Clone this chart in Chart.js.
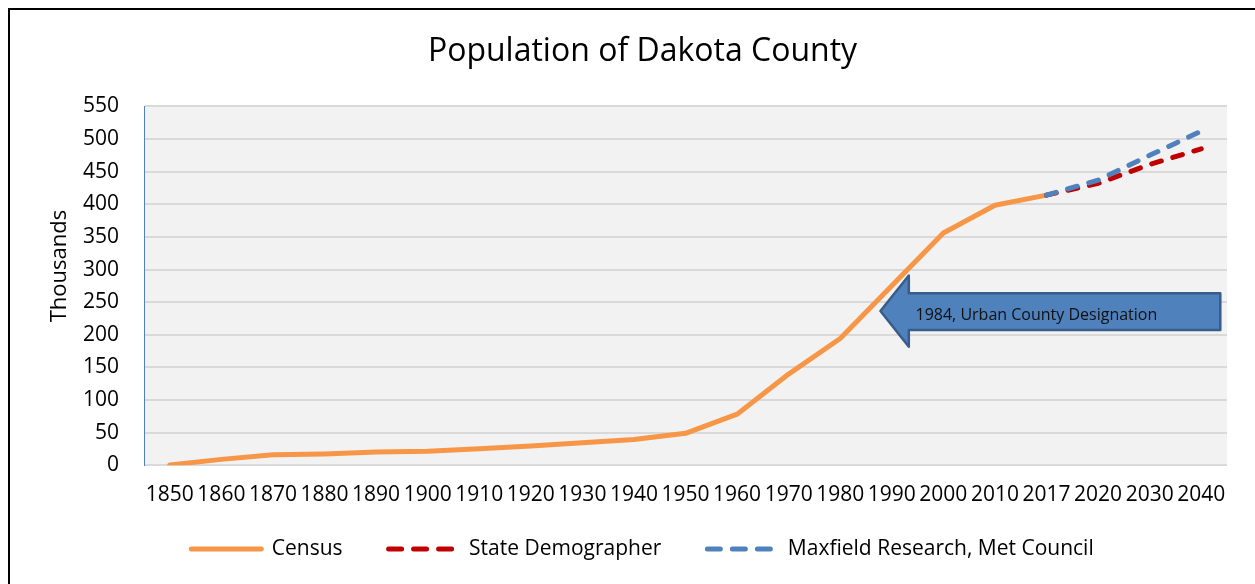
<!DOCTYPE html>
<html>
<head>
<meta charset="utf-8">
<title>Population of Dakota County</title>
<script src="https://cdn.jsdelivr.net/npm/chart.js@4.4.1/dist/chart.umd.min.js"></script>
<style>
  body { margin: 0; background: #fff; }
  #wrap { width: 1255px; height: 584px; position: relative; }
</style>
</head>
<body>
<div id="wrap"><canvas id="myChart"></canvas></div>
<script>
// categories (census years + projection years)
var years = ['1850', '1860', '1870', '1880', '1890', '1900', '1910', '1920', '1930', '1940',
             '1950', '1960', '1970', '1980', '1990', '2000', '2010', '2017', '2020', '2030', '2040'];

// population in thousands
var census = [0.6, 9.1, 16.3, 17.4, 20.2, 21.7, 25.2, 29.6, 34.6, 39.7,
              49.0, 78.3, 139.8, 194.3, 275.2, 355.9, 398.6, 414, null, null, null];
var stateDemographer = [null, null, null, null, null, null, null, null, null, null,
                        null, null, null, null, null, null, null, 414, 432, 461, 485];
var maxfieldMetCouncil = [null, null, null, null, null, null, null, null, null, null,
                          null, null, null, null, null, null, null, 414, 437, 475, 512];

var yTicks = [0, 50, 100, 150, 200, 250, 300, 350, 400, 450, 500, 550];

var yTitle = 'Thousands';
var calloutText = '1984, Urban County Designation';

Chart.defaults.font.family = "'Open Sans', sans-serif";
Chart.defaults.color = '#000';

// white page, the frame lines and the grey plot area
var backdrop = {
    id: 'backdrop',
    beforeDraw: function(chart){
        var ctx = chart.ctx, a = chart.chartArea;
        ctx.save();
        ctx.fillStyle = '#fff';
        ctx.fillRect(0, 0, chart.width, chart.height);
        ctx.fillStyle = '#f2f2f2';
        ctx.fillRect(a.left, a.top, a.right - a.left, a.bottom - a.top);
        ctx.strokeStyle = '#000';
        ctx.lineWidth = 2;
        ctx.beginPath();
        ctx.moveTo(9, chart.height);
        ctx.lineTo(9, 9);
        ctx.lineTo(chart.width, 9);
        ctx.stroke();
        // axis title, sits a bit above the middle like the original
        ctx.translate(60, a.top + (a.bottom - a.top) * 0.445);
        ctx.rotate(-Math.PI / 2);
        ctx.fillStyle = '#000';
        ctx.font = "22px 'Open Sans', sans-serif";
        ctx.textAlign = 'center';
        ctx.textBaseline = 'middle';
        ctx.fillText(yTitle, 0, 0);
        ctx.restore();
    }
};

// the blue arrow callout, placed on the scales
var callout = {
    id: 'callout',
    afterDatasetsDraw: function(chart){
        var ctx = chart.ctx;
        var x = chart.scales.x, y = chart.scales.y;
        var tipX = x.getPixelForValue(13.78), headX = x.getPixelForValue(14.33), endX = x.getPixelForValue(20.37);
        var tipY = y.getPixelForValue(236.6);
        var headTop = y.getPixelForValue(290.8), headBot = y.getPixelForValue(181.7);
        var shaftTop = y.getPixelForValue(263.7), shaftBot = y.getPixelForValue(207.4);
        ctx.save();
        ctx.beginPath();
        ctx.moveTo(tipX, tipY);
        ctx.lineTo(headX, headTop);
        ctx.lineTo(headX, shaftTop);
        ctx.lineTo(endX, shaftTop);
        ctx.lineTo(endX, shaftBot);
        ctx.lineTo(headX, shaftBot);
        ctx.lineTo(headX, headBot);
        ctx.closePath();
        ctx.fillStyle = '#4f81bd';
        ctx.fill();
        ctx.lineJoin = 'round';
        ctx.lineWidth = 2.5;
        ctx.strokeStyle = '#385d8a';
        ctx.stroke();
        ctx.fillStyle = '#111';
        ctx.font = "16px 'Open Sans', sans-serif";
        ctx.textBaseline = 'middle';
        ctx.fillText(calloutText, x.getPixelForValue(14.46), y.getPixelForValue(229));
        ctx.restore();
    }
};

// legend samples: point style items lose the dash, so put it back
function legendLabels(chart){
    var items = Chart.defaults.plugins.legend.labels.generateLabels(chart);
    items.forEach(function(it){
        var ds = chart.data.datasets[it.datasetIndex];
        it.lineDash = ds.borderDash ? [13, 12] : [];
        it.lineCap = 'round';
        it.lineWidth = 5;
    });
    return items;
}

function initChart(){
    var ctx = document.getElementById('myChart').getContext('2d');
    var data = {
        labels: years,
        datasets: [
            {
                label: 'Census',
                data: census,
                borderColor: '#f79646',
                backgroundColor: '#f79646',
                borderWidth: 5,
                borderCapStyle: 'round',
                borderJoinStyle: 'round',
                pointRadius: 0,
                pointStyle: 'line',
                order: 2
            },
            {
                label: 'State Demographer',
                data: stateDemographer,
                borderColor: '#c00000',
                backgroundColor: '#c00000',
                borderWidth: 5,
                borderDash: [10, 12],
                borderCapStyle: 'round',
                pointRadius: 0,
                pointStyle: 'line',
                order: 1
            },
            {
                label: 'Maxfield Research, Met Council',
                data: maxfieldMetCouncil,
                borderColor: '#4f81bd',
                backgroundColor: '#4f81bd',
                borderWidth: 5,
                borderDash: [10, 12],
                borderCapStyle: 'round',
                pointRadius: 0,
                pointStyle: 'line',
                order: 0
            }
        ]
    };

    new Chart(ctx, {
        type: 'line',
        data: data,
        options: {
            responsive: true,
            maintainAspectRatio: false,
            devicePixelRatio: 1,
            animation: false,
            layout: { padding: { left: 58, right: 28, top: 0, bottom: 14.5 } },
            plugins: {
                tooltip: { enabled: false },
                title: {
                    display: true,
                    text: 'Population of Dakota County',
                    font: { size: 32, weight: 'normal' },
                    padding: { top: 33, bottom: 35 }
                },
                legend: {
                    position: 'bottom',
                    // empty title only pulls the legend row up, gaps between items stay wide
                    title: { display: true, text: '', font: { size: 10, lineHeight: 1 }, padding: { top: -43, bottom: 0 } },
                    labels: {
                        usePointStyle: true,
                        pointStyleWidth: 70,
                        padding: 46,
                        font: { size: 21 },
                        generateLabels: legendLabels,
                        sort: function(a, b){ return a.datasetIndex - b.datasetIndex; }
                    }
                }
            },
            scales: {
                x: {
                    offset: true,
                    grid: { display: false, drawTicks: false },
                    border: { display: false },
                    ticks: { padding: 17.5, maxRotation: 0, autoSkip: false, font: { size: 21 } }
                },
                y: {
                    min: 0,
                    max: 550,
                    afterBuildTicks: function(scale){
                        scale.ticks = yTicks.map(function(v){ return { value: v }; });
                    },
                    grid: { color: '#d9d9d9', lineWidth: 2, drawTicks: false },
                    border: { display: true, color: '#4f81bd', width: 1 },
                    ticks: { padding: 25, font: { size: 21 } }
                }
            }
        },
        plugins: [backdrop, callout]
    });
}

initChart();
</script>
</body>
</html>
